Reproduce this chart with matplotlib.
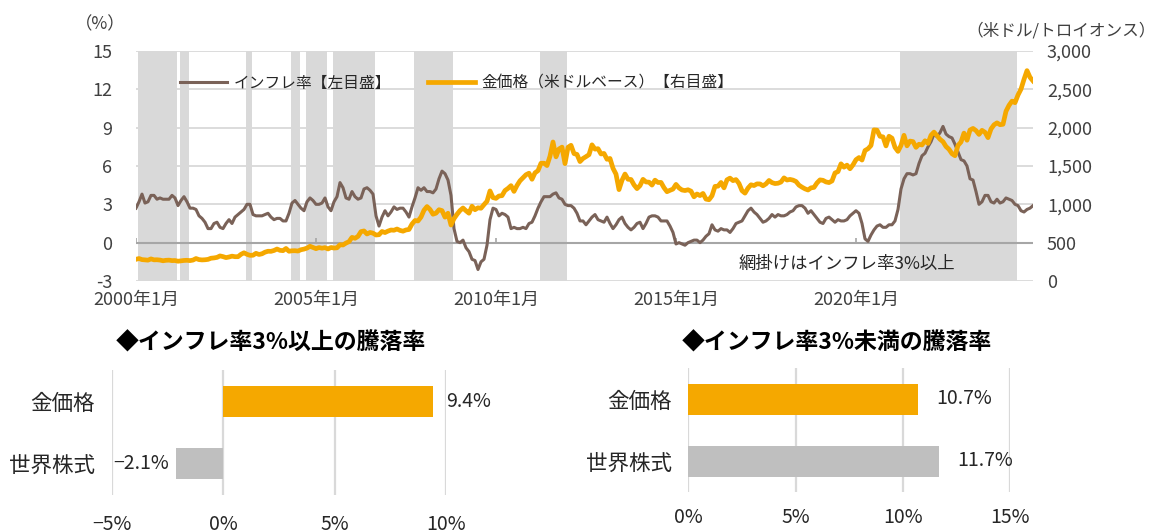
import numpy as np
import matplotlib
matplotlib.use('Agg')
import matplotlib.pyplot as plt

plt.rcParams['font.family'] = ['Noto Sans CJK JP', 'DejaVu Sans']

# US CPI YoY (%), monthly Jan 2000 - Dec 2024
inflation = [
    2.7, 3.2, 3.8, 3.1, 3.2, 3.7, 3.7, 3.4, 3.5, 3.4, 3.4, 3.4,   # 2000
    3.7, 3.5, 2.9, 3.3, 3.6, 3.2, 2.7, 2.7, 2.6, 2.1, 1.9, 1.6,   # 2001
    1.1, 1.1, 1.5, 1.6, 1.2, 1.1, 1.5, 1.8, 1.5, 2.0, 2.2, 2.4,   # 2002
    2.6, 3.0, 3.0, 2.2, 2.1, 2.1, 2.1, 2.2, 2.3, 2.0, 1.8, 1.9,   # 2003
    1.9, 1.7, 1.7, 2.3, 3.1, 3.3, 3.0, 2.7, 2.5, 3.2, 3.5, 3.3,   # 2004
    3.0, 3.0, 3.1, 3.5, 2.8, 2.5, 3.2, 3.6, 4.7, 4.3, 3.5, 3.4,   # 2005
    4.0, 3.6, 3.4, 3.5, 4.2, 4.3, 4.1, 3.8, 2.1, 1.3, 2.0, 2.5,   # 2006
    2.1, 2.4, 2.8, 2.6, 2.7, 2.7, 2.4, 2.0, 2.8, 3.5, 4.3, 4.1,   # 2007
    4.3, 4.0, 4.0, 3.9, 4.2, 5.0, 5.6, 5.4, 4.9, 3.7, 1.1, 0.1,   # 2008
    0.0, 0.2, -0.4, -0.7, -1.3, -1.4, -2.1, -1.5, -1.3, -0.2, 1.8, 2.7,  # 2009
    2.6, 2.1, 2.3, 2.2, 2.0, 1.1, 1.2, 1.1, 1.1, 1.2, 1.1, 1.5,   # 2010
    1.6, 2.1, 2.7, 3.2, 3.6, 3.6, 3.6, 3.8, 3.9, 3.5, 3.4, 3.0,   # 2011
    2.9, 2.9, 2.7, 2.3, 1.7, 1.7, 1.4, 1.7, 2.0, 2.2, 1.8, 1.7,   # 2012
    1.6, 2.0, 1.5, 1.1, 1.4, 1.8, 2.0, 1.5, 1.2, 1.0, 1.2, 1.5,   # 2013
    1.6, 1.1, 1.5, 2.0, 2.1, 2.1, 2.0, 1.7, 1.7, 1.7, 1.3, 0.8,   # 2014
    -0.1, 0.0, -0.1, -0.2, 0.0, 0.1, 0.2, 0.2, 0.0, 0.2, 0.5, 0.7,  # 2015
    1.4, 1.0, 0.9, 1.1, 1.0, 1.0, 0.8, 1.1, 1.5, 1.6, 1.7, 2.1,   # 2016
    2.5, 2.7, 2.4, 2.2, 1.9, 1.6, 1.7, 1.9, 2.2, 2.0, 2.2, 2.1,   # 2017
    2.1, 2.2, 2.4, 2.5, 2.8, 2.9, 2.9, 2.7, 2.3, 2.5, 2.2, 1.9,   # 2018
    1.6, 1.5, 1.9, 2.0, 1.8, 1.6, 1.8, 1.7, 1.7, 1.8, 2.1, 2.3,   # 2019
    2.5, 2.3, 1.5, 0.3, 0.1, 0.6, 1.0, 1.3, 1.4, 1.2, 1.2, 1.4,   # 2020
    1.4, 1.7, 2.6, 4.2, 5.0, 5.4, 5.4, 5.3, 5.4, 6.2, 6.8, 7.0,   # 2021
    7.5, 7.9, 8.5, 8.3, 8.6, 9.1, 8.5, 8.3, 8.2, 7.7, 7.1, 6.5,   # 2022
    6.4, 6.0, 5.0, 4.9, 4.0, 3.0, 3.2, 3.7, 3.7, 3.2, 3.1, 3.4,   # 2023
    3.1, 3.2, 3.5, 3.4, 3.3, 3.0, 2.9, 2.5, 2.4, 2.6, 2.7, 2.9,   # 2024
]

# gold price (USD/oz), monthly Jan 2000 - Dec 2024
gold = [
    283, 293, 279, 276, 272, 288, 276, 277, 273, 264, 270, 272,
    266, 267, 258, 263, 268, 270, 266, 273, 293, 279, 275, 277,
    282, 297, 301, 308, 327, 318, 305, 313, 324, 317, 317, 348,
    368, 348, 335, 336, 361, 346, 355, 376, 388, 387, 398, 417,
    400, 396, 424, 388, 394, 395, 391, 408, 416, 429, 453, 438,
    422, 436, 428, 435, 418, 437, 430, 433, 473, 470, 495, 513,
    569, 557, 582, 644, 653, 613, 633, 624, 600, 604, 646, 632,
    651, 665, 662, 678, 660, 650, 666, 672, 743, 789, 783, 834,
    923, 971, 933, 871, 885, 930, 918, 833, 884, 730, 814, 870,
    919, 952, 916, 884, 975, 930, 955, 949, 996, 1040, 1175, 1088,
    1078, 1109, 1113, 1180, 1208, 1244, 1169, 1246, 1307, 1346, 1386, 1406,
    1327, 1411, 1439, 1536, 1536, 1506, 1628, 1813, 1620, 1722, 1746, 1531,
    1744, 1770, 1662, 1651, 1558, 1598, 1622, 1648, 1776, 1720, 1726, 1657,
    1664, 1588, 1598, 1470, 1394, 1192, 1314, 1395, 1327, 1324, 1254, 1205,
    1244, 1326, 1292, 1289, 1251, 1315, 1285, 1286, 1217, 1165, 1183, 1199,
    1260, 1214, 1187, 1180, 1190, 1172, 1098, 1135, 1114, 1142, 1068, 1060,
    1112, 1234, 1237, 1285, 1215, 1320, 1342, 1309, 1323, 1272, 1178, 1146,
    1212, 1255, 1245, 1267, 1266, 1242, 1267, 1311, 1283, 1271, 1275, 1291,
    1345, 1317, 1325, 1316, 1298, 1250, 1224, 1202, 1187, 1215, 1221, 1279,
    1319, 1313, 1292, 1284, 1305, 1409, 1427, 1528, 1485, 1511, 1464, 1515,
    1582, 1610, 1578, 1702, 1725, 1768, 1971, 1968, 1887, 1880, 1762, 1888,
    1863, 1743, 1691, 1768, 1900, 1763, 1825, 1818, 1743, 1784, 1774, 1829,
    1795, 1901, 1942, 1896, 1849, 1817, 1754, 1718, 1660, 1634, 1769, 1813,
    1929, 1836, 1969, 1990, 1962, 1912, 1965, 1940, 1870, 1983, 2037, 2063,
    2039, 2044, 2214, 2291, 2346, 2326, 2426, 2503, 2630, 2744, 2657, 2610,
]

xtick_labels = ['2000年1月', '2005年1月', '2010年1月', '2015年1月', '2020年1月']
threshold = 3.0

bar_cats = ['金価格', '世界株式']
above3 = [9.4, -2.1]
below3 = [10.7, 11.7]

GOLD = '#F5A800'
BROWN = '#7A6258'
GREY_BAR = '#BFBFBF'
SHADE = '#D9D9D9'
GRID = '#D9D9D9'
TXT = '#404040'

W, H = 1156, 530
fig = plt.figure(figsize=(W / 100, H / 100), dpi=100)

def box(x0, y0, x1, y1):
    return [x0 / W, 1 - y1 / H, (x1 - x0) / W, (y1 - y0) / H]

# ---------------- top chart ----------------
ax = fig.add_axes(box(136, 51, 1033, 281))
months = np.arange(len(inflation))
infl = np.array(inflation)

ax.set_xlim(0, len(inflation) - 1)
ax.set_ylim(-3, 15)
ax.set_yticks(np.arange(-3, 16, 3))
ax.set_yticklabels([str(v) for v in range(-3, 16, 3)])
ax.set_axisbelow(True)
ax.grid(axis='y', color=GRID, lw=1.3)
# shaded months where inflation >= 3%
for i in months[infl >= threshold]:
    ax.axvspan(i - 0.5, i + 0.5, color=SHADE, lw=0, zorder=1)
ax.axhline(0, color='#A6A6A6', lw=1.5, zorder=2)
xt = [12 * 5 * k for k in range(len(xtick_labels))]
ax.vlines(xt, 0, 0.4, color='#A6A6A6', lw=1.2, zorder=2)
l1, = ax.plot(months, infl, color=BROWN, lw=2.2, zorder=3, label='インフレ率【左目盛】')
ax.set_xticks(xt)
ax.set_xticklabels(xtick_labels)
for s in ax.spines.values():
    s.set_visible(False)
ax.tick_params(axis='x', length=0, pad=7, labelsize=13, colors=TXT)
ax.tick_params(axis='y', length=0, pad=17, labelsize=13, colors=TXT)

ax2 = ax.twinx()
ax2.set_ylim(0, 3000)
ax2.set_yticks(np.arange(0, 3001, 500))
ax2.set_yticklabels([f'{v:,}' for v in range(0, 3001, 500)])
l2, = ax2.plot(months, gold, color=GOLD, lw=3.4, zorder=4, label='金価格（米ドルベース）【右目盛】')
for s in ax2.spines.values():
    s.set_visible(False)
ax2.tick_params(axis='y', length=0, pad=10, labelsize=13, colors=TXT)

fig.legend(handles=[l1, l2], loc='upper left', bbox_to_anchor=(172 / W, 1 - 67 / H),
           ncol=2, frameon=False, fontsize=11.3, handlelength=3.0, handletextpad=0.4,
           columnspacing=2.4, borderpad=0, labelcolor='#262626')

fig.text(100 / W, 1 - 24 / H, '（%）', ha='center', va='center', fontsize=12.5, color=TXT)
fig.text(1156 / W, 1 - 31 / H, '（米ドル/トロイオンス）', ha='right', va='center',
         fontsize=12, color=TXT)
fig.text(955 / W, 1 - 264 / H, '網掛けはインフレ率3%以上', ha='right', va='center',
         fontsize=12.5, color='#262626')

# ---------------- bottom bar charts ----------------
def bar_panel(rect, vals, xlim, xticks, xlabels, off, tpad):
    b = fig.add_axes(rect)
    y = np.arange(len(bar_cats))
    b.barh(y, vals, height=0.5, color=[GOLD, GREY_BAR], zorder=3)
    b.set_xlim(*xlim)
    b.set_ylim(1.5, -0.5)
    b.set_yticks(y)
    b.set_yticklabels(bar_cats)
    b.set_xticks(xticks)
    b.set_xticklabels(xlabels)
    b.grid(axis='x', color=GRID, lw=1.6, zorder=0)
    b.set_axisbelow(True)
    for s in b.spines.values():
        s.set_visible(False)
    b.tick_params(axis='y', length=0, pad=12, labelsize=15.5, colors='#262626')
    b.tick_params(axis='x', length=0, pad=tpad, labelsize=14, colors='#262626')
    for yi, v in zip(y, vals):
        lab = f'{v:.1f}%'.replace('-', '−')
        if v >= 0:
            b.annotate(lab, (v, yi), xytext=(off, 0), textcoords='offset points',
                       ha='left', va='center', fontsize=14, color='#262626')
        else:
            b.annotate(lab, (v, yi), xytext=(-5, 0), textcoords='offset points',
                       ha='right', va='center', fontsize=14, color='#262626')
    return b

bar_panel(box(111.7, 370, 446, 495), above3, (-5, 10), [-5, 0, 5, 10],
          ['−5%', '0%', '5%', '10%'], 10, 14)
bar_panel(box(688.3, 368, 1010, 492), below3, (0, 15), [0, 5, 10, 15],
          ['0%', '5%', '10%', '15%'], 13, 11)

fig.text(271 / W, 1 - 343 / H, '◆インフレ率3%以上の騰落率', ha='center', va='center',
         fontsize=16.5, fontweight='bold', color='black')
fig.text(837 / W, 1 - 343 / H, '◆インフレ率3%未満の騰落率', ha='center', va='center',
         fontsize=16.5, fontweight='bold', color='black')

fig.savefig('out.png', dpi=100)
